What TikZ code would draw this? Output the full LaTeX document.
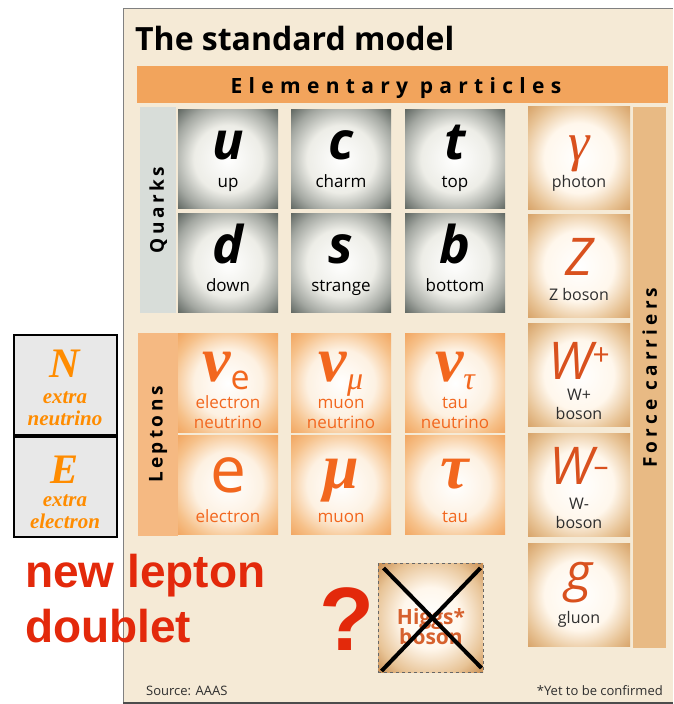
\documentclass[tikz,border=0pt]{standalone}
\usepackage{fontspec}
\setmainfont{Open Sans}
\newfontfamily\arl{Liberation Sans}
\newfontfamily\tms{Liberation Serif}
\usetikzlibrary{positioning}
\definecolor{panel}{HTML}{F5EAD6}
\definecolor{band}{HTML}{F2A45C}
\definecolor{qstrip}{HTML}{D8DDD9}
\definecolor{qdark}{HTML}{4A524D}
\definecolor{qmid}{HTML}{A2A6A0}
\definecolor{qin}{HTML}{EDEDE7}
\definecolor{lstrip}{HTML}{F5B982}
\definecolor{lout}{HTML}{F09A4E}
\definecolor{lmid}{HTML}{F6C18A}
\definecolor{lin}{HTML}{FDF1E2}
\definecolor{ltext}{HTML}{F2671E}
\definecolor{fstrip}{HTML}{E8BA84}
\definecolor{fout}{HTML}{CF9352}
\definecolor{fmid}{HTML}{E8C497}
\definecolor{fin}{HTML}{FFF7EC}
\definecolor{ftext}{HTML}{D9511E}
\definecolor{dtext}{HTML}{2E2E2E}
\definecolor{hout}{HTML}{C07E3C}
\definecolor{htext}{HTML}{D6612E}
\definecolor{rot}{HTML}{E3290B}
\definecolor{norange}{HTML}{FF8C00}
\definecolor{nfill}{HTML}{E8E8E8}
\pgfdeclareradialshading{qglow}{\pgfpoint{0bp}{0bp}}{color(0bp)=(white); color(17bp)=(qin); color(28bp)=(qmid); color(38bp)=(qdark); color(50bp)=(qdark)}
\pgfdeclareradialshading{lglow}{\pgfpoint{0bp}{0bp}}{color(0bp)=(white); color(17bp)=(lin); color(28bp)=(lmid); color(39bp)=(lout); color(50bp)=(lout)}
\pgfdeclareradialshading{fglow}{\pgfpoint{0bp}{0bp}}{color(0bp)=(white); color(17bp)=(fin); color(28bp)=(fmid); color(39bp)=(fout); color(50bp)=(fout)}
\pgfdeclareradialshading{hglow}{\pgfpoint{0bp}{0bp}}{color(0bp)=(white); color(14bp)=(fin); color(27bp)=(fmid); color(38bp)=(hout); color(50bp)=(hout)}
\tikzset{
  cell/.style={rectangle,inner sep=0pt,minimum width=100pt,minimum height=99pt},
  qcell/.style={cell,shade,shading=qglow},
  lcell/.style={cell,shade,shading=lglow},
  fcell/.style={cell,shade,shading=fglow,minimum width=102pt,minimum height=103pt},
  strip/.style={rectangle,inner sep=0pt,anchor=north west},
  sym/.style={anchor=base,inner sep=0pt,text depth=0pt},
  qsym/.style={sym,text=black,font=\fontsize{52}{52}\selectfont\bfseries\itshape},
  lsym/.style={sym,text=ltext,font=\fontsize{64}{64}\selectfont\tms\bfseries\itshape},
  fsym/.style={sym,text=ftext,font=\fontsize{52}{52}\selectfont\itshape},
  lab/.style={anchor=base,inner sep=0pt,text height=12pt,font=\fontsize{17}{17}\selectfont},
  qlab/.style={lab,text=black},
  llab/.style={lab,text=ltext},
  flab/.style={lab,text=dtext,font=\fontsize{16}{16}\selectfont},
  side/.style={inner sep=0pt,rotate=90,font=\fontsize{19}{19}\selectfont\bfseries\addfontfeature{LetterSpace=18}},
  wide/.style={inner sep=0pt,rotate=90,font=\fontsize{19}{19}\selectfont\bfseries\addfontfeature{LetterSpace=22}},
  extra/.style={rectangle,fill=nfill,draw=black,line width=2pt,inner sep=0pt,minimum width=103pt,minimum height=100pt},
  etext/.style={anchor=base,inner sep=0pt,text height=14pt,text depth=0pt,text=norange,font=\fontsize{21}{21}\selectfont\tms\bfseries\itshape},
  esym/.style={etext,text height=30pt,font=\fontsize{42}{42}\selectfont\tms\bfseries\itshape},
  big/.style={anchor=base west,inner sep=0pt,text=rot,font=\fontsize{46}{46}\selectfont\arl\bfseries},
}

\begin{document}
\begin{tikzpicture}[x=1pt,y=-1pt]
  \useasboundingbox (0,0) rectangle (673,704);
  % newspaper panel
  \fill[panel] (123,8) rectangle (673,704);
  \draw[gray,line width=1pt] (123,704) -- (123,8) -- (673,8);
  \draw[black!70,line width=2pt] (123,703) -- (673,703);
  \node[anchor=base west,inner sep=0pt,font=\fontsize{32}{32}\selectfont\bfseries] (title) at (135,50) {The standard model};
  \node[strip,fill=band,minimum width=531pt,minimum height=37pt] (band) at (137,66) {};
  \node[anchor=base,inner sep=0pt,font=\fontsize{21}{21}\selectfont\bfseries\addfontfeature{LetterSpace=30}] (elem) at (396,93) {Elementary particles};
  % strips
  \node[strip,fill=qstrip,minimum width=36pt,minimum height=206pt] (qstr) at (140,107) {};
  \node[side] (quarks) at (qstr.center) {Quarks};
  \node[strip,fill=lstrip,minimum width=40pt,minimum height=203pt] (lstr) at (138,333) {};
  \node[side] (leptons) at (lstr.center) {Leptons};
  \node[strip,fill=fstrip,minimum width=33pt,minimum height=541pt] (fstr) at (633,107) {};
  \node[wide] (forces) at (fstr.center) {Force carriers};
  % quarks
  \foreach \n/\s/\l/\x/\y in {u/u/up/228/159, c/c/charm/341/159, t/t/top/455/159,
      d/d/down/228/263, s/s/strange/341/263, b/b/bottom/455/263} {
    \node[qcell] (q\n) at (\x,\y) {};
    \node[qsym] (q\n sym) at (\x,\y) {\s};
    \node[qlab] (q\n lab) at (\x,\y+28) {\l};
  }
  % leptons
  \node[lcell] (lne) at (228,383) {};
  \node[lcell] (lnm) at (341,383) {};
  \node[lcell] (lnt) at (455,383) {};
  \node[lcell] (le) at (228,485) {};
  \node[lcell] (lm) at (341,485) {};
  \node[lcell] (lt) at (455,485) {};
  \node[lsym] (lnesym) at (226,381) {ν\raisebox{-8pt}{\fontsize{34}{34}\selectfont\mdseries\upshape\rmfamily e}};
  \node[lsym] (lnmsym) at (341,381) {ν\raisebox{-8pt}{\fontsize{32}{32}\selectfont\mdseries μ}};
  \node[lsym] (lntsym) at (455,381) {ν\raisebox{-8pt}{\fontsize{32}{32}\selectfont\mdseries τ}};
  \node[sym,text=ltext,font=\fontsize{64}{64}\selectfont] (lesym) at (228,492) {e};
  \node[lsym] (lmsym) at (341,488) {μ};
  \node[lsym] (ltsym) at (455,488) {τ};
  \node[llab] (lnelab) at (228,408) {electron};
  \node[llab] (lnelab2) at (228,428) {neutrino};
  \node[llab] (lnmlab) at (341,408) {muon};
  \node[llab] (lnmlab2) at (341,428) {neutrino};
  \node[llab] (lntlab) at (455,408) {tau};
  \node[llab] (lntlab2) at (455,428) {neutrino};
  \node[llab] (lelab) at (228,522) {electron};
  \node[llab] (lmlab) at (341,522) {muon};
  \node[llab] (ltlab) at (455,522) {tau};
  % force carriers
  \node[fcell] (fgam) at (579,158) {};
  \node[fcell] (fz) at (579,266) {};
  \node[fcell] (fwp) at (579,375) {};
  \node[fcell] (fwm) at (579,485) {};
  \node[fcell] (fg) at (579,595) {};
  \node[fsym,font=\fontsize{54}{54}\selectfont\tms\itshape] (fgamsym) at (579,160) {γ};
  \node[flab] (fgamlab) at (579,187) {photon};
  \node[fsym] (fzsym) at (579,275) {Z};
  \node[flab] (fzlab) at (579,300) {Z boson};
  \node[fsym] (fwpsym) at (579,379) {W\raisebox{14pt}{\fontsize{30}{30}\selectfont\upshape+}};
  \node[flab] (fwplab) at (579,400) {W+};
  \node[flab] (fwplab2) at (579,419) {boson};
  \node[fsym] (fwmsym) at (579,484) {W\raisebox{8pt}{\fontsize{30}{30}\selectfont\upshape –}};
  \node[flab] (fwmlab) at (579,509) {W-};
  \node[flab] (fwmlab2) at (579,528) {boson};
  \node[fsym] (fgsym) at (579,590) {g};
  \node[flab] (fglab) at (579,623) {gluon};
  % higgs, crossed out
  \node[cell,shade,shading=hglow,minimum width=105pt,minimum height=109pt,draw=black!60,dashed,line width=1pt] (higgs) at (430.5,618) {};
  \node[anchor=base,inner sep=0pt,text=htext,font=\fontsize{21}{21}\selectfont\bfseries] (hlab) at (431,624) {Higgs*};
  \node[anchor=base,inner sep=0pt,text=htext,font=\fontsize{21}{21}\selectfont\bfseries] (hlab2) at (431,644) {boson};
  \draw[black,line width=4pt] ([shift={(6,5)}]higgs.north west) -- ([shift={(-2,-5)}]higgs.south east);
  \draw[black,line width=4pt] ([shift={(-3,5)}]higgs.north east) -- ([shift={(4,-2)}]higgs.south west);
  \node[anchor=base,inner sep=0pt,text=rot,font=\fontsize{90}{90}\selectfont\arl\bfseries] (quest) at (347,650) {?};
  % footnotes
  \node[anchor=base west,inner sep=0pt,text=dtext,font=\fontsize{13}{13}\selectfont] (src) at (146,695) {Source: AAAS};
  \node[anchor=base east,inner sep=0pt,text=dtext,font=\fontsize{13}{13}\selectfont] (conf) at (663,695) {*Yet to be confirmed};
  % new doublet
  \node[extra] (nbox) at (65,384.5) {};
  \node[extra] (ebox) at (65,487) {};
  \node[esym] (nsym) at (65,377) {N};
  \node[etext] (nlab) at (65,403) {extra};
  \node[etext] (nlab2) at (65,425) {neutrino};
  \node[esym] (esym) at (65,483) {E};
  \node[etext] (elab) at (65,506) {extra};
  \node[etext] (elab2) at (65,528) {electron};
  \node[big] (newl) at (25,587) {new lepton};
  \node[big] (doub) at (25,642) {doublet};
\end{tikzpicture}
\end{document}
